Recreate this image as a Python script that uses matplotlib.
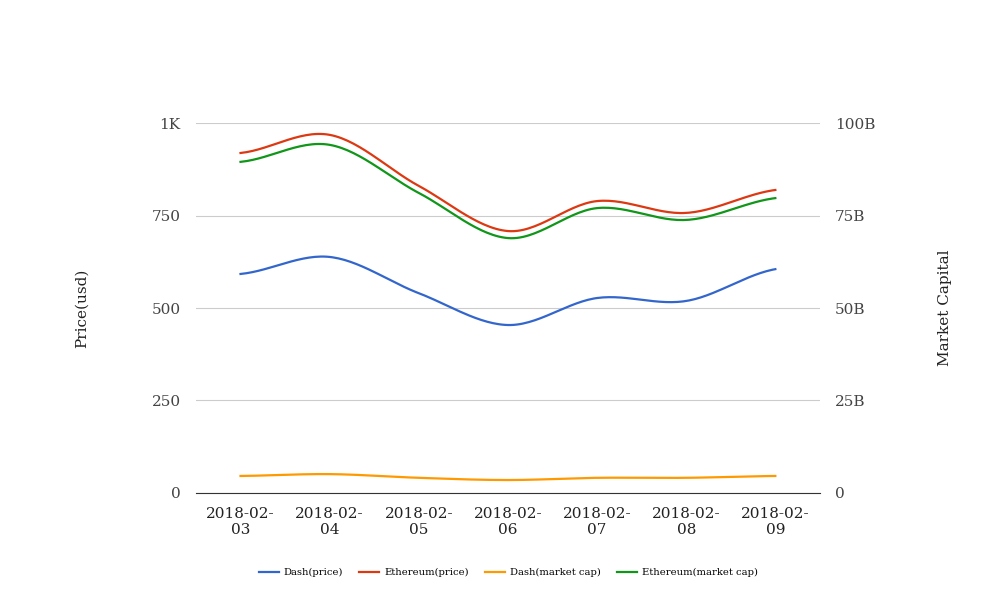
import numpy as np
import matplotlib.pyplot as plt
from matplotlib.ticker import FuncFormatter

dates = ['2018-02-\n03', '2018-02-\n04', '2018-02-\n05', '2018-02-\n06',
         '2018-02-\n07', '2018-02-\n08', '2018-02-\n09']
dash_price = [592, 638, 540, 454, 527, 519, 605]
eth_price = [919, 968, 830, 708, 789, 757, 819]
dash_mcap = [4.6e9, 5.1e9, 4.1e9, 3.5e9, 4.1e9, 4.1e9, 4.6e9]
eth_mcap = [89.5e9, 94.1e9, 81.1e9, 68.9e9, 77.0e9, 73.8e9, 79.7e9]

plt.rcParams['font.family'] = 'DejaVu Serif'


def smooth(xs, ys, n=30):
    # catmull-rom style curve through the points, for drawing only
    xs = np.asarray(xs, float)
    ys = np.asarray(ys, float)
    px = np.concatenate([[2 * xs[0] - xs[1]], xs, [2 * xs[-1] - xs[-2]]])
    py = np.concatenate([[ys[0]], ys, [ys[-1]]])
    outx, outy = [], []
    for i in range(1, len(px) - 2):
        t = np.linspace(0, 1, n, endpoint=False)
        for arr, out in ((px, outx), (py, outy)):
            p0, p1, p2, p3 = arr[i - 1], arr[i], arr[i + 1], arr[i + 2]
            out.extend(0.5 * (2 * p1 + (-p0 + p2) * t
                              + (2 * p0 - 5 * p1 + 4 * p2 - p3) * t ** 2
                              + (-p0 + 3 * p1 - 3 * p2 + p3) * t ** 3))
    outx.append(xs[-1])
    outy.append(ys[-1])
    return outx, outy


fig = plt.figure(figsize=(10.08, 6.16), dpi=100)
ax = fig.add_axes([0.1944, 0.1997, 0.619, 0.6006])
ax2 = ax.twinx()

x = np.arange(len(dates))
l1, = ax.plot(*smooth(x, dash_price), color='#3366cc', lw=1.6, label='Dash(price)')
l2, = ax.plot(*smooth(x, eth_price), color='#dc3912', lw=1.6, label='Ethereum(price)')
l3, = ax2.plot(*smooth(x, dash_mcap), color='#ff9900', lw=1.6, label='Dash(market cap)')
l4, = ax2.plot(*smooth(x, eth_mcap), color='#109618', lw=1.6, label='Ethereum(market cap)')

ax.set_xlim(-0.5, 6.5)
ax.set_ylim(0, 1000)
ax2.set_ylim(0, 100e9)
ax.set_yticks([0, 250, 500, 750, 1000])
ax2.set_yticks([0, 25e9, 50e9, 75e9, 100e9])
ax.yaxis.set_major_formatter(FuncFormatter(lambda v, p: '1K' if v == 1000 else '%d' % v))
ax2.yaxis.set_major_formatter(FuncFormatter(lambda v, p: '0' if v == 0 else '%dB' % (v / 1e9)))
ax.set_xticks(x)
ax.set_xticklabels(dates)

ax.grid(axis='y', color='#cccccc', lw=0.8)
ax.set_axisbelow(True)
for a in (ax, ax2):
    for s in a.spines.values():
        s.set_visible(False)
    a.tick_params(length=0, labelsize=11, colors='#444444')
ax.spines['bottom'].set_visible(True)
ax.spines['bottom'].set_color('#333333')
ax.tick_params(axis='y', pad=11)
ax2.tick_params(axis='y', pad=11)
ax.tick_params(axis='x', pad=10, labelcolor='#222222')

ax.set_ylabel('Price(usd)', fontsize=11, color='#222222', labelpad=45)
ax2.set_ylabel('Market Capital', fontsize=11, color='#222222', labelpad=45)

fig.legend(handles=[l1, l2, l3, l4], loc='center', bbox_to_anchor=(0.504, 0.07),
           ncol=4, frameon=False, fontsize=7.2, handlelength=2, columnspacing=1.6,
           handletextpad=0.5)

fig.savefig('out.png', dpi=100)
